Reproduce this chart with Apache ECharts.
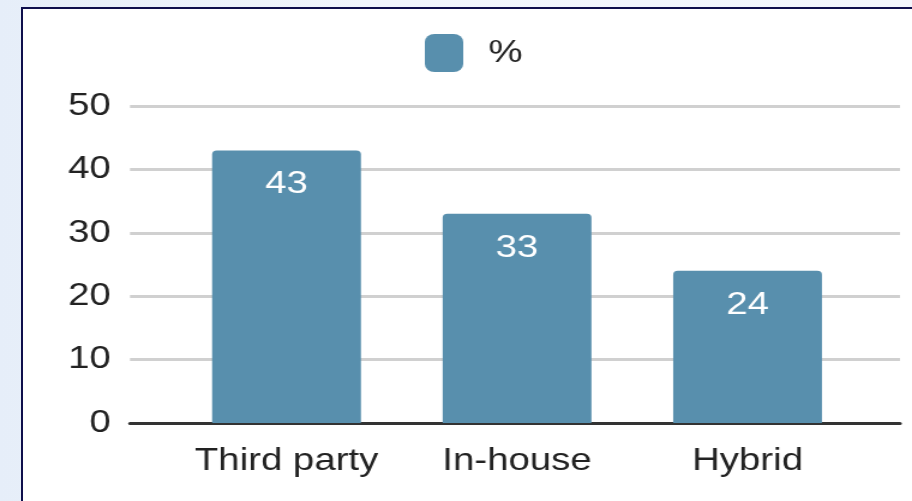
<!DOCTYPE html>
<html>
<head>
<meta charset="utf-8">
<script src="https://cdn.jsdelivr.net/npm/echarts@6/dist/echarts.min.js"></script>
<style>
  html, body { margin: 0; padding: 0; width: 912px; height: 501px; overflow: hidden;
    background: linear-gradient(to right, #e6eef9, #f1f5fc 40%, #f3f6fc); }
  #panel { position: absolute; left: 21px; top: 7px; width: 1000px; height: 600px;
    background: #ffffff; border: 2px solid #0f0f4c; }
  #chart { position: absolute; left: 0; top: 0; width: 760px; height: 501px;
    transform: scaleX(1.2); transform-origin: 0 0; }
</style>
</head>
<body>
<div id="panel"></div>
<div id="chart"></div>
<script>
const categories = ['Third party', 'In-house', 'Hybrid'];
const seriesName = '%';
const values = [43, 33, 24];
const yTicks = { min: 0, max: 50, interval: 10 };

const FONT = '"Liberation Sans", Arial, sans-serif';
const chart = echarts.init(document.getElementById('chart'), null, { renderer: 'canvas' });
chart.setOption({
  animation: false,
  textStyle: { fontFamily: FONT },
  legend: {
    data: [seriesName],
    left: 349, top: 29,
    icon: 'roundRect',
    itemWidth: 32, itemHeight: 38, itemGap: 10,
    textStyle: { fontSize: 32, color: '#222222', fontFamily: FONT, padding: [0, 0, 0, 16] }
  },
  grid: [
    { left: 108.3, right: 10, top: 106, bottom: 78 },
    { left: 142.7, right: 41, top: 106, bottom: 78 }
  ],
  xAxis: [
    { type: 'category', gridIndex: 0, data: categories,
      axisLine: { show: true, lineStyle: { color: '#333333', width: 3 } },
      axisTick: { show: false }, axisLabel: { show: false }, splitLine: { show: false } },
    { type: 'category', gridIndex: 1, data: categories,
      axisLine: { show: false }, axisTick: { show: false },
      axisLabel: { interval: 0, fontSize: 32, color: '#222222', margin: 22, fontFamily: FONT } }
  ],
  yAxis: [
    { type: 'value', gridIndex: 0, min: yTicks.min, max: yTicks.max, interval: yTicks.interval,
      axisLine: { show: false }, axisTick: { show: false },
      axisLabel: { fontSize: 32, color: '#222222', margin: 16, fontFamily: FONT },
      splitLine: { lineStyle: { color: '#d0d0d0', width: 3 } } },
    { type: 'value', gridIndex: 1, min: yTicks.min, max: yTicks.max, interval: yTicks.interval,
      show: false, splitLine: { show: false } }
  ],
  series: [
    { name: seriesName, type: 'bar', xAxisIndex: 1, yAxisIndex: 1, data: values,
      barWidth: 124,
      itemStyle: { color: '#588fad', borderRadius: [4, 4, 0, 0] },
      label: { show: true, position: 'insideTop', distance: 18, fontSize: 32,
        color: '#ffffff', fontFamily: FONT } }
  ]
});
</script>
</body>
</html>
